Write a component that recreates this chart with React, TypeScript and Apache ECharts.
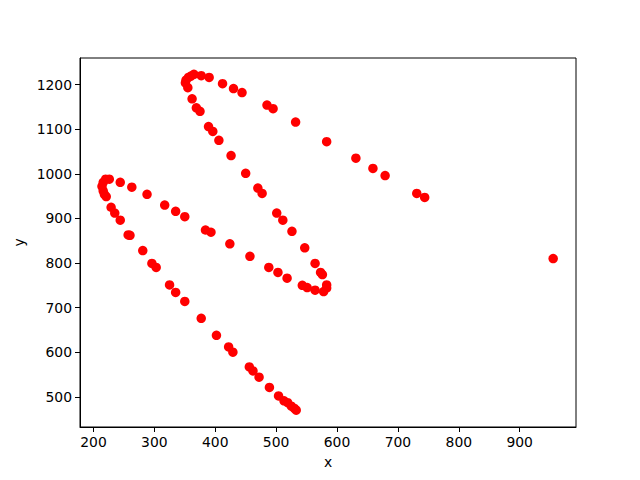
import React, { useEffect, useRef } from "react";
import * as echarts from "echarts";

const xValues: number[] = [
  355, 351, 352, 356, 360, 365, 377, 390, 412, 430, 444, 485, 495, 532, 583, 631, 659, 679, 731, 744, 955,
  362, 369, 375, 389, 396, 406, 426, 450, 470, 477, 501, 511, 526, 547, 564, 573, 576, 583, 583, 578, 564,
  551, 543, 518, 503, 488, 457, 424, 393, 384, 350, 335, 317, 288, 263, 244,
  226, 220, 216, 214, 216, 218, 221,
  229, 235, 244, 257, 260, 281, 296, 303, 325, 335, 350, 377, 402, 422, 429, 456, 462, 472, 489, 504, 513,
  519, 525, 530, 533,
];
const yValues: number[] = [
  1193, 1204, 1210, 1216, 1219, 1223, 1220, 1216, 1202, 1191, 1182, 1154, 1146, 1116, 1072, 1035, 1012, 996, 956, 947, 810,
  1168, 1148, 1140, 1106, 1095, 1075, 1041, 1001, 968, 956, 912, 896, 871, 834, 799, 779, 774, 751, 744, 736, 739,
  745, 750, 766, 779, 790, 815, 843, 869, 874, 904, 916, 930, 954, 970, 981,
  988, 988, 981, 972, 962, 954, 949,
  925, 912, 896, 863, 862, 828, 799, 790, 751, 734, 714, 676, 638, 612, 600, 567, 558, 544, 521, 502, 491,
  487, 479, 474, 470,
];
const xTicks: number[] = [200, 300, 400, 500, 600, 700, 800, 900];
const yTicks: number[] = [500, 600, 700, 800, 900, 1000, 1100, 1200];

export default function App() {
  const ref = useRef<HTMLDivElement>(null);
  useEffect(() => {
    if (!ref.current) return;
    const chart = echarts.init(ref.current, undefined, { renderer: "svg" });
    const data = xValues.map((x, i) => [x, yValues[i]]);
    const font = "DejaVu Sans";
    chart.setOption({
      animation: false,
      backgroundColor: "#ffffff",
      grid: {
        left: 80,
        right: 64,
        top: 58,
        bottom: 53,
        show: true,
        borderColor: "#000000",
        borderWidth: 1,
        backgroundColor: "transparent",
      },
      xAxis: {
        type: "value",
        min: 177.9,
        max: 992.5,
        name: "x",
        nameLocation: "middle",
        nameGap: 28,
        nameTextStyle: { fontFamily: font, fontSize: 13.9, color: "#000" },
        axisLine: { show: true, lineStyle: { color: "#000", width: 1 } },
        axisTick: { show: true, inside: false, length: 5, customValues: xTicks, lineStyle: { color: "#000" } },
        axisLabel: {
          customValues: xTicks,
          margin: 8,
          fontFamily: font,
          fontSize: 13.9,
          color: "#000",
          formatter: (v: number) => String(v),
        },
        splitLine: { show: false },
      },
      yAxis: {
        type: "value",
        min: 432.4,
        max: 1259.6,
        name: "y",
        nameLocation: "middle",
        nameGap: 47,
        nameRotate: 90,
        nameTextStyle: { fontFamily: font, fontSize: 13.9, color: "#000" },
        axisLine: { show: true, lineStyle: { color: "#000", width: 1 } },
        axisTick: { show: true, inside: false, length: 5, customValues: yTicks, lineStyle: { color: "#000" } },
        axisLabel: {
          customValues: yTicks,
          margin: 8,
          fontFamily: font,
          fontSize: 13.9,
          color: "#000",
          formatter: (v: number) => String(v),
        },
        splitLine: { show: false },
      },
      series: [
        {
          type: "scatter",
          data,
          symbol: "circle",
          symbolSize: 9.5,
          itemStyle: { color: "#ff0000", opacity: 1 },
        },
      ],
    });
    return () => chart.dispose();
  }, []);
  return (
    <div
      ref={ref}
      style={{ position: "fixed", left: 0, top: 0, width: 640, height: 480, background: "#fff" }}
    />
  );
}
